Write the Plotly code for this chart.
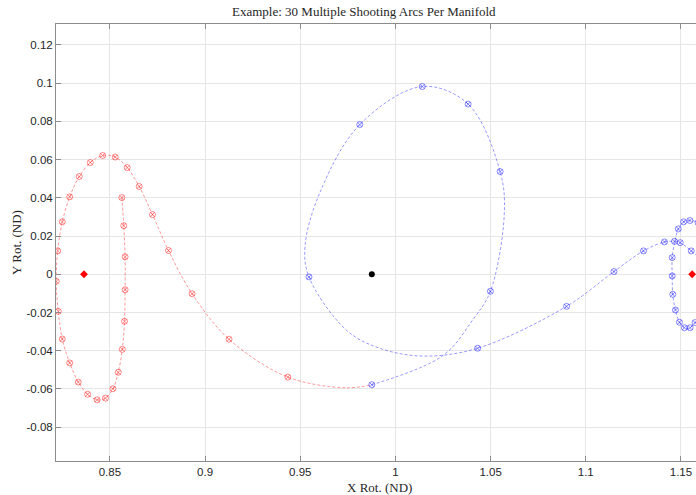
import plotly.graph_objects as go

# ---------------- data ----------------
# Red manifold: trajectory path (nodes + a few read-off curve points)
red_path_x = [0.8563, 0.8573, 0.8580, 0.8580, 0.8577, 0.8565, 0.8544, 0.8516, 0.8477, 0.8433,
              0.8383, 0.8334, 0.8289, 0.8250, 0.8229, 0.8218, 0.8226, 0.8250, 0.8289, 0.8339,
              0.8397, 0.8462, 0.8528, 0.8591, 0.8654, 0.8724, 0.8808, 0.8932, 0.9126, 0.9435,
              0.9742, 0.9876]
red_path_y = [0.0401, 0.0254, 0.0091, -0.0081, -0.0246, -0.0393, -0.0513, -0.0599, -0.0648, -0.0657,
              -0.0628, -0.0564, -0.0464, -0.0339, -0.0194, -0.0037, 0.0122, 0.0274, 0.0405, 0.0511,
              0.0584, 0.0621, 0.0613, 0.0558, 0.0459, 0.0312, 0.0124, -0.0102, -0.0340, -0.0538,
              -0.0594, -0.0578]
# Red multiple-shooting nodes
red_node_x = [0.8563, 0.8573, 0.8580, 0.8580, 0.8577, 0.8565, 0.8544, 0.8516, 0.8477, 0.8433,
              0.8383, 0.8334, 0.8289, 0.8250, 0.8229, 0.8218, 0.8226, 0.8250, 0.8289, 0.8339,
              0.8397, 0.8462, 0.8528, 0.8591, 0.8654, 0.8724, 0.8808, 0.8932, 0.9126, 0.9435]
red_node_y = [0.0401, 0.0254, 0.0091, -0.0081, -0.0246, -0.0393, -0.0513, -0.0599, -0.0648, -0.0657,
              -0.0628, -0.0564, -0.0464, -0.0339, -0.0194, -0.0037, 0.0122, 0.0274, 0.0405, 0.0511,
              0.0584, 0.0621, 0.0613, 0.0558, 0.0459, 0.0312, 0.0124, -0.0102, -0.0340, -0.0538]

# Blue manifold: trajectory path
blue_path_x = [0.9876, 1.0249, 1.0406, 1.0499, 1.0572, 1.0550, 1.0382, 1.0141, 0.9813, 0.9602,
               0.9525, 0.9546, 0.9742, 0.9917, 1.0144, 1.0432, 1.0899, 1.1148, 1.1303, 1.1413,
               1.1466, 1.1496, 1.1554, 1.1620, 1.1660, 1.1660, 1.1620, 1.1574, 1.1548, 1.1518,
               1.1492, 1.1471, 1.1457, 1.1454, 1.1454, 1.1468, 1.1486, 1.1514, 1.1547, 1.1590,
               1.1630]
blue_path_y = [-0.0578, -0.0426, -0.0239, -0.0089, 0.0319, 0.0537, 0.0890, 0.0982, 0.0783, 0.0424,
               0.0145, -0.0014, -0.0292, -0.0387, -0.0428, -0.0387, -0.0168, 0.0014, 0.0122, 0.0169,
               0.0172, 0.0165, 0.0122, 0.0060, -0.0050, -0.0160, -0.0235, -0.0253, -0.0280, -0.0280,
               -0.0251, -0.0187, -0.0105, -0.0009, 0.0087, 0.0172, 0.0237, 0.0274, 0.0281, 0.0270,
               0.0240]
# Blue multiple-shooting nodes
blue_node_x = [0.9876, 1.0499, 1.0550, 1.0382, 1.0141, 0.9813, 0.9546, 1.0432, 1.0899, 1.1148,
               1.1303, 1.1413, 1.1466, 1.1496, 1.1554, 1.1620, 1.1660, 1.1660, 1.1620, 1.1574,
               1.1548, 1.1518, 1.1492, 1.1471, 1.1457, 1.1454, 1.1454, 1.1486, 1.1514, 1.1547,
               1.1590]
blue_node_y = [-0.0578, -0.0089, 0.0537, 0.0890, 0.0982, 0.0783, -0.0014, -0.0387, -0.0168, 0.0014,
               0.0122, 0.0169, 0.0172, 0.0165, 0.0122, 0.0060, -0.0050, -0.0160, -0.0235, -0.0253,
               -0.0280, -0.0280, -0.0251, -0.0187, -0.0105, -0.0009, 0.0087, 0.0237, 0.0274, 0.0281,
               0.0270]

# Libration points and Moon
lib_x = [0.8364, 1.1559]
lib_y = [0.0, 0.0]
moon_x = [0.9876]
moon_y = [0.0]

x_ticks = [0.85, 0.9, 0.95, 1.0, 1.05, 1.1, 1.15]
x_tick_text = ["0.85", "0.9", "0.95", "1", "1.05", "1.1", "1.15"]
y_ticks = [-0.08, -0.06, -0.04, -0.02, 0.0, 0.02, 0.04, 0.06, 0.08, 0.1, 0.12]
y_tick_text = ["-0.08", "-0.06", "-0.04", "-0.02", "0", "0.02", "0.04", "0.06", "0.08", "0.1", "0.12"]

title_text = "Example: 30 Multiple Shooting Arcs Per Manifold"
x_label = "X Rot. (ND)"
y_label = "Y Rot. (ND)"

# ---------------- figure ----------------
RED = "rgba(255,0,0,0.5)"
BLUE = "rgba(0,0,255,0.5)"
dash = "3px,2px"

fig = go.Figure()
fig.add_trace(go.Scatter(x=red_path_x, y=red_path_y, mode="lines",
                         line=dict(color=RED, width=0.8, dash=dash, shape="spline", smoothing=1.0),
                         hoverinfo="skip"))
fig.add_trace(go.Scatter(x=blue_path_x, y=blue_path_y, mode="lines",
                         line=dict(color=BLUE, width=0.8, dash=dash, shape="spline", smoothing=1.0),
                         hoverinfo="skip"))
fig.add_trace(go.Scatter(x=red_node_x, y=red_node_y, mode="markers",
                         marker=dict(symbol="circle-x-open", size=6, color=RED, line=dict(width=0.9, color=RED))))
fig.add_trace(go.Scatter(x=blue_node_x, y=blue_node_y, mode="markers",
                         marker=dict(symbol="circle-x-open", size=6, color=BLUE, line=dict(width=0.9, color=BLUE))))
fig.add_trace(go.Scatter(x=lib_x, y=lib_y, mode="markers",
                         marker=dict(symbol="diamond", size=6, color="red")))
fig.add_trace(go.Scatter(x=moon_x, y=moon_y, mode="markers",
                         marker=dict(symbol="circle", size=6, color="black")))

axis_common = dict(
    showgrid=True, gridcolor="#e6e6e6", gridwidth=1,
    zeroline=False, showline=True, linecolor="#8c8c8c", linewidth=1,
    ticks="inside", ticklen=5, tickcolor="#8c8c8c", tickwidth=1,
    tickfont=dict(family="Liberation Sans, Arial, sans-serif", size=11.5, color="#262626"),
)

fig.update_layout(
    width=696, height=495,
    margin=dict(l=56, r=0, t=24, b=34),
    paper_bgcolor="white", plot_bgcolor="white",
    showlegend=False,
    xaxis=dict(range=[0.8217, 1.1579], tickvals=x_ticks, ticktext=x_tick_text,
               mirror="ticks", **axis_common),
    yaxis=dict(range=[-0.0977, 0.1309], tickvals=y_ticks, ticktext=y_tick_text,
               mirror=False, **axis_common),
    annotations=[
        dict(text=title_text, xref="paper", yref="paper", x=0.482, y=1.0275,
             xanchor="center", yanchor="middle", showarrow=False,
             font=dict(family="Liberation Serif, Times New Roman, serif", size=13, color="#262626")),
        dict(text=x_label, xref="paper", yref="paper", x=0.506, y=-26.7 / 437,
             xanchor="center", yanchor="middle", showarrow=False,
             font=dict(family="Liberation Serif, Times New Roman, serif", size=13, color="#262626")),
        dict(text=y_label, xref="paper", yref="paper", x=-39.0 / 640, y=0.499,
             xanchor="center", yanchor="middle", showarrow=False, textangle=-90,
             font=dict(family="Liberation Serif, Times New Roman, serif", size=13, color="#262626")),
    ],
)

fig.write_html("out.html")
